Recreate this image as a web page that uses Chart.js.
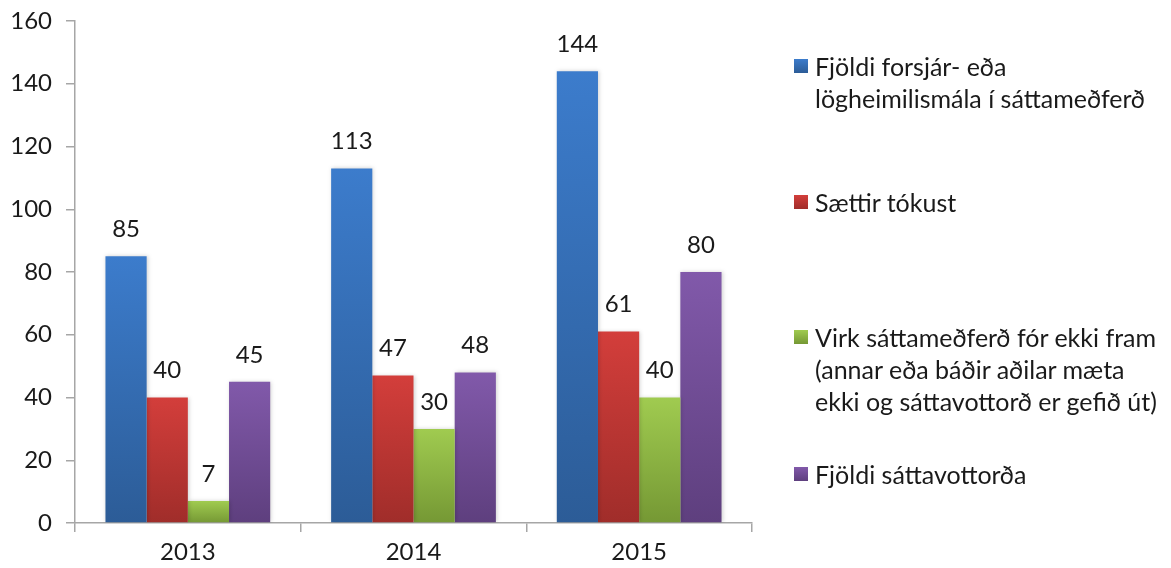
<!DOCTYPE html>
<html>
<head>
<meta charset="utf-8">
<script src="https://cdn.jsdelivr.net/npm/chart.js@4.4.1/dist/chart.umd.min.js"></script>
<style>
  html, body { margin: 0; padding: 0; background: #fff; }
  #wrap { position: relative; width: 1171px; height: 568px; }
  #chart { position: absolute; left: 0; top: 0; }
  .legend-item { position: absolute; left: 794px; font-family: Lato, "Open Sans", sans-serif; font-size: 25px; line-height: 32px; color: #1a1a1a; }
  .legend-item .box { position: absolute; left: 0; top: 9px; width: 14px; height: 14px; }
  .legend-item .txt { margin-left: 21px; white-space: nowrap; }
</style>
</head>
<body>
<div id="wrap">
  <canvas id="chart" width="1171" height="568"></canvas>
  <div id="legend"></div>
</div>
<script>
const years = ['2013', '2014', '2015'];
const seriesNames = [
  ['Fjöldi forsjár- eða', 'lögheimilismála í sáttameðferð'],
  ['Sættir tókust'],
  ['Virk sáttameðferð fór ekki fram', '(annar eða báðir aðilar mæta', 'ekki og sáttavottorð er gefið út)'],
  ['Fjöldi sáttavottorða']
];
const casesTotal = [85, 113, 144];
const settled = [40, 47, 61];
const noMediation = [7, 30, 40];
const certificates = [45, 48, 80];
const yTicks = [0, 20, 40, 60, 80, 100, 120, 140, 160];

// top / bottom colours of each bar gradient
const barColors = [
  ['#3c7ccc', '#2c5c97'],
  ['#d33e3b', '#a02d2a'],
  ['#a0cb50', '#759834'],
  ['#8159aa', '#5e3f7e']
];
const legendTops = [50, 186, 321, 458];

function gradientFor(idx) {
  return function (context) {
    const chart = context.chart;
    if (!chart.chartArea || context.raw === undefined) return barColors[idx][1];
    const y = chart.scales.y;
    const top = y.getPixelForValue(context.raw);
    const bottom = y.getPixelForValue(0);
    const g = chart.ctx.createLinearGradient(0, top, 0, bottom === top ? top + 1 : bottom);
    g.addColorStop(0, barColors[idx][0]);
    g.addColorStop(1, barColors[idx][1]);
    return g;
  };
}

const allSeries = [casesTotal, settled, noMediation, certificates];
const datasets = allSeries.map((values, i) => ({
  label: seriesNames[i].join(' '),
  data: values,
  backgroundColor: gradientFor(i),
  borderWidth: 0
}));

// legend as html text
const legendDiv = document.getElementById('legend');
seriesNames.forEach((lines, i) => {
  const item = document.createElement('div');
  item.className = 'legend-item';
  item.style.top = legendTops[i] + 'px';
  item.innerHTML = `<div class="box" style="background:linear-gradient(${barColors[i][0]}, ${barColors[i][1]})"></div>` +
    `<div class="txt">${lines.join('<br>')}</div>`;
  legendDiv.appendChild(item);
});

const valueLabels = {
  id: 'valueLabels',
  afterDatasetsDraw(chart) {
    const ctx = chart.ctx;
    ctx.save();
    ctx.font = '24px Lato, "Open Sans", sans-serif';
    ctx.fillStyle = '#1a1a1a';
    ctx.textAlign = 'center';
    ctx.textBaseline = 'middle';
    chart.data.datasets.forEach((ds, i) => {
      chart.getDatasetMeta(i).data.forEach((bar, j) => {
        ctx.fillText(String(ds.data[j]), bar.x, bar.y - 27);
      });
    });
    ctx.restore();
  }
};

const barShadow = {
  id: 'barShadow',
  beforeDatasetsDraw(chart) {
    const ctx = chart.ctx;
    ctx.save();
    ctx.shadowColor = 'rgba(0,0,0,0.18)';
    ctx.shadowBlur = 4;
    ctx.shadowOffsetX = 1;
  },
  afterDatasetsDraw(chart) {
    chart.ctx.restore();
  }
};

new Chart(document.getElementById('chart'), {
  type: 'bar',
  data: { labels: years, datasets: datasets },
  plugins: [barShadow, valueLabels],
  options: {
    responsive: false,
    animation: false,
    layout: { padding: { top: 21, right: 419, left: 0, bottom: 0 } },
    datasets: { bar: { categoryPercentage: 0.73, barPercentage: 1 } },
    plugins: { legend: { display: false }, tooltip: { enabled: false } },
    scales: {
      y: {
        min: 0,
        max: 160,
        afterBuildTicks(scale) { scale.ticks = yTicks.map(v => ({ value: v })); },
        afterFit(scale) {
          scale.width = 75;
          scale.paddingTop = 0;
          scale.paddingBottom = 0;
        },
        border: { color: '#a6a6a6', width: 1.5 },
        grid: { drawOnChartArea: false, tickLength: 9, color: '#a6a6a6', lineWidth: 1.5 },
        ticks: { padding: 14, color: '#1a1a1a', font: { family: 'Lato, "Open Sans", sans-serif', size: 24 } }
      },
      x: {
        afterFit(scale) { scale.height = 45; },
        border: { color: '#a6a6a6', width: 1.5 },
        grid: { offset: true, drawOnChartArea: false, tickLength: 9, color: '#a6a6a6', lineWidth: 1.5 },
        ticks: { padding: 6, color: '#1a1a1a', font: { family: 'Lato, "Open Sans", sans-serif', size: 24 } }
      }
    }
  }
});
</script>
</body>
</html>
